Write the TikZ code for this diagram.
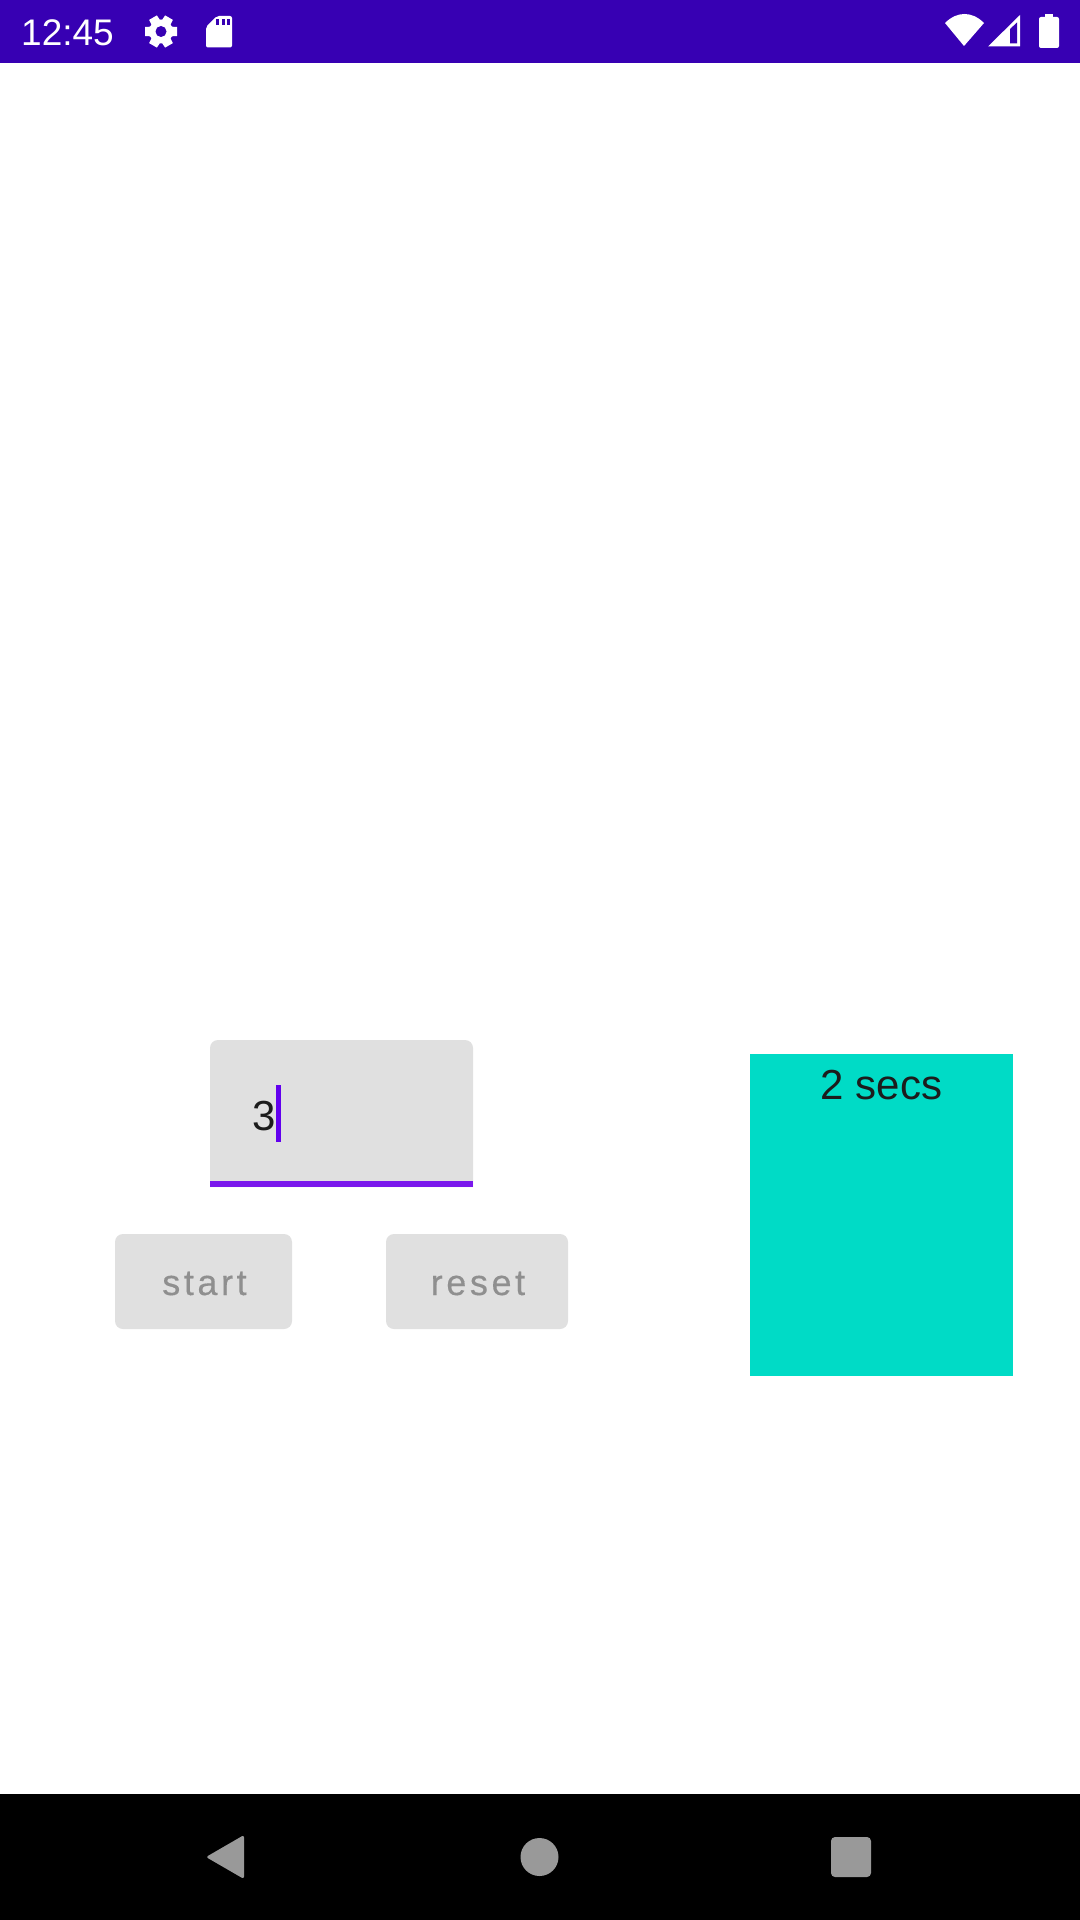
\documentclass[tikz,border=0pt]{standalone}
\usepackage{fontspec}
\setmainfont{Liberation Sans}
\newfontfamily\btnfont[LetterSpace=10,FakeBold=0.3]{Liberation Sans}
\usepackage{xcolor}
\definecolor{barpurple}{HTML}{3700B3}
\definecolor{accent}{HTML}{6200EE}
\definecolor{underline}{HTML}{7A18EC}
\definecolor{fieldgray}{HTML}{E0E0E0}
\definecolor{labelgray}{HTML}{8F8F8F}
\definecolor{navgray}{HTML}{999999}
\definecolor{teal}{HTML}{00DBC6}
\definecolor{inktext}{HTML}{1C1C1C}
\tikzset{
  txt/.style={anchor=base, inner sep=0pt, outer sep=0pt},
  btnlabel/.style={txt, text=labelgray, font=\btnfont\fontsize{18}{22}\selectfont},
}

\begin{document}
\begin{tikzpicture}[x=0.5pt,y=-0.5pt]
\useasboundingbox (0,0) rectangle (1080,1920);
\fill[white] (0,0) rectangle (1080,1920);

% status bar
\fill[barpurple] (0,0) rectangle (1080,63);
\node[txt, white, font=\fontsize{18.5}{22}\selectfont] (clock) at (67.5,46) {12:45};

% gear
\foreach \a in {30,90,150,210,270,330} {
  \fill[white, rotate around={\a:(161,31.5)}] (155.5,31.5) -- (156.5,15.5) -- (165.5,15.5) -- (166.5,31.5) -- cycle;
}
\fill[white] (161,31.5) circle[radius=12];
\fill[barpurple] (161,31.5) circle[radius=5.5];

% sd card
\fill[white, rounded corners=1pt] (206,27) -- (217,16) -- (232,16) -- (232,47.5) -- (206,47.5) -- cycle;
\foreach \x in {216,222,227} {
  \fill[barpurple] (\x,19) rectangle (\x+3,25);
}

% wifi, signal, battery
\fill[white] (964,46) -- (945,23) .. controls (957,11) and (972,11) .. (984,23) -- cycle;
\fill[white] (988,46.5) -- (1020,15) -- (1020,46.5) -- cycle;
\fill[barpurple] (1010,29) -- (1017,22.5) -- (1017,43.5) -- (1010,43.5) -- cycle;
\fill[white] (1045,14) rectangle (1053,18);
\fill[white, rounded corners=1pt] (1039,17) rectangle (1059,48);

% text field
\fill[fieldgray] (210,1187) [rounded corners=4pt] -- (210,1040) -- (473,1040) [sharp corners] -- (473,1187) -- cycle;
\fill[underline] (210,1181) rectangle (473,1187);
\node[txt, inktext, font=\fontsize{21}{25}\selectfont] (fieldtext) at (264,1130) {3};
\fill[accent] (276,1085) rectangle (281,1142);

% buttons
\foreach \xa/\xb/\name in {115/292/start, 386/568/reset} {
  \fill[fieldgray, rounded corners=4pt] (\xa,1234) rectangle (\xb,1329);
  \node[btnlabel] (\name) at ({(\xa+\xb)/2+1},1295) {\name};
}

% timer box
\fill[teal] (750,1054) rectangle (1013,1376);
\node[txt, inktext, font=\fontsize{21}{25}\selectfont] (timer) at (881.5,1099) {2 secs};

% nav bar
\fill[black] (0,1794) rectangle (1080,1920);
\fill[navgray, rounded corners=1.2pt] (206,1857) -- (244,1835) -- (244,1879) -- cycle;
\fill[navgray] (539.5,1857) circle[radius=19];
\fill[navgray, rounded corners=2pt] (831,1837) rectangle (871,1877);

\end{tikzpicture}
\end{document}
